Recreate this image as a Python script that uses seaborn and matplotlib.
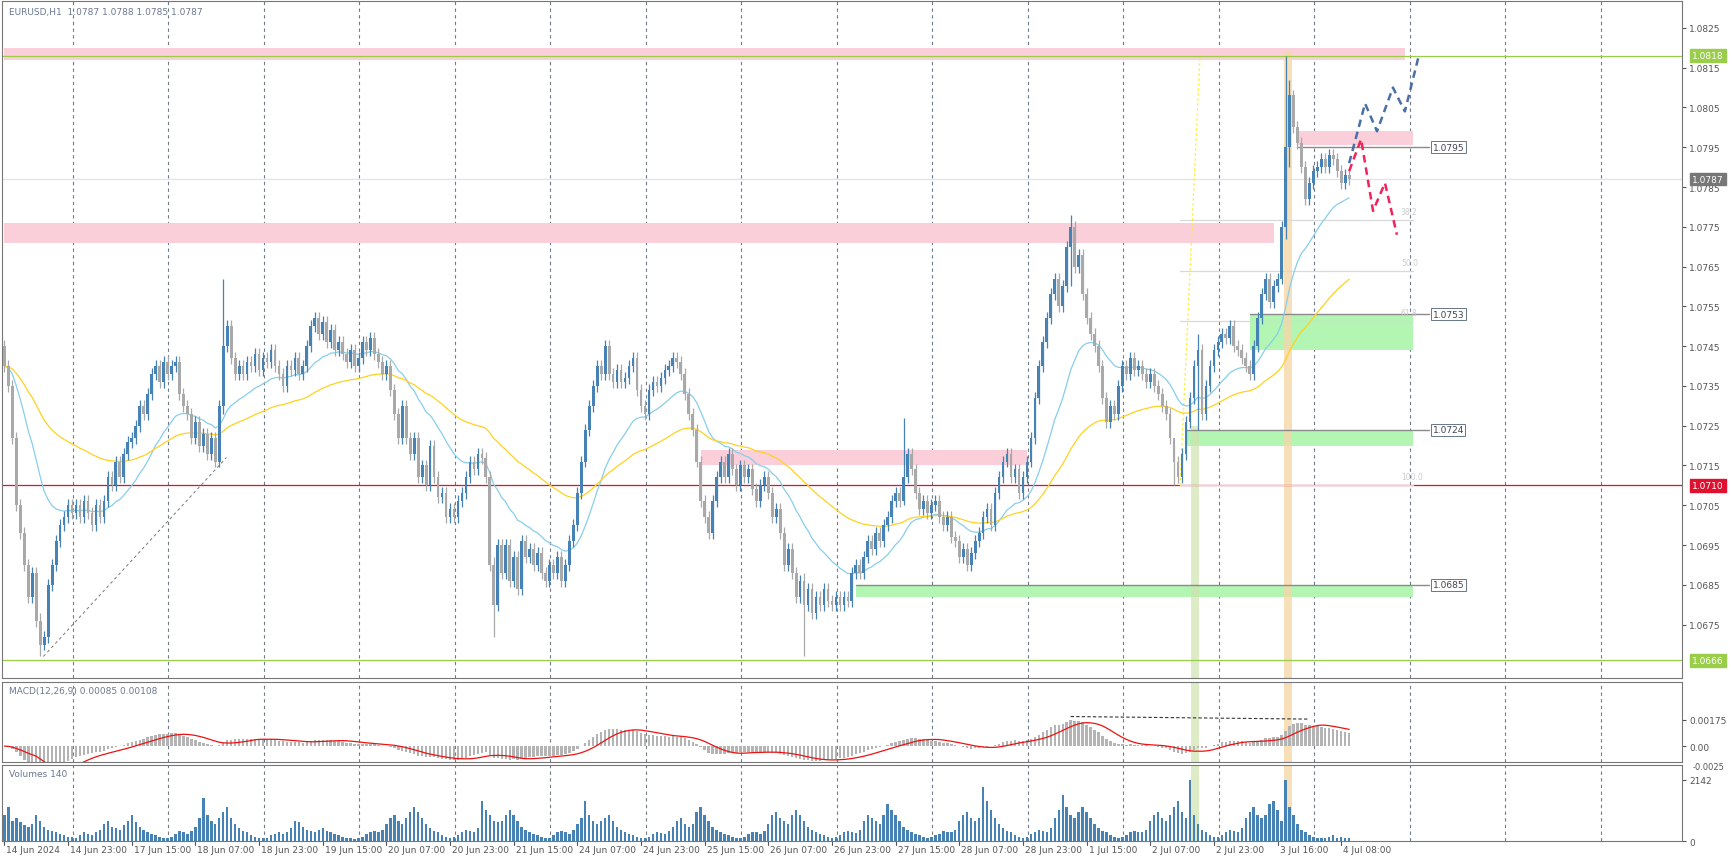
import numpy as np
import pandas as pd
import seaborn as sns
import matplotlib.pyplot as plt
from matplotlib.patches import Rectangle
import matplotlib.transforms as mtrans

# EURUSD H1 closes, 14 Jun 2024 07:00 -> 4 Jul 2024 09:00
closes = [
    1.0740, 1.0735, 1.0722, 1.0705, 1.0698, 1.0690, 1.0682, 1.0688, 1.0676, 1.0670, 1.0672, 1.0685,
    1.0690, 1.0696, 1.0700, 1.0702, 1.0705, 1.0703, 1.0705, 1.0702, 1.0706, 1.0703, 1.0700, 1.0705,
    1.0702, 1.0706, 1.0712, 1.0710, 1.0716, 1.0712, 1.0718, 1.0721, 1.0722, 1.0725, 1.0730, 1.0728,
    1.0733, 1.0738, 1.0740, 1.0736, 1.0741, 1.0738, 1.0740, 1.0741, 1.0733, 1.0730, 1.0728, 1.0722,
    1.0726, 1.0720, 1.0723, 1.0718, 1.0722, 1.0716, 1.0730, 1.0745, 1.0750, 1.0742, 1.0738, 1.0740,
    1.0738, 1.0741, 1.0740, 1.0743, 1.0739, 1.0742, 1.0741, 1.0744, 1.0740, 1.0738, 1.0735, 1.0740,
    1.0739, 1.0742, 1.0738, 1.0740, 1.0745, 1.0750, 1.0752, 1.0748, 1.0751, 1.0746, 1.0749, 1.0744,
    1.0746, 1.0743, 1.0741, 1.0744, 1.0740, 1.0742, 1.0746, 1.0744, 1.0747, 1.0743, 1.0741, 1.0738,
    1.0740, 1.0734, 1.0728, 1.0722, 1.0730, 1.0722, 1.0718, 1.0722, 1.0712, 1.0715, 1.0710, 1.0720,
    1.0712, 1.0707, 1.0708, 1.0702, 1.0704, 1.0702, 1.0706, 1.0708, 1.0712, 1.0716, 1.0714, 1.0718,
    1.0717, 1.0712, 1.0690, 1.0680, 1.0695, 1.0688, 1.0695, 1.0686, 1.0692, 1.0684, 1.0696, 1.0692,
    1.0694, 1.0690, 1.0693, 1.0688, 1.0686, 1.0690, 1.0688, 1.0692, 1.0686, 1.0690, 1.0696, 1.0700,
    1.0708, 1.0716, 1.0724, 1.0730, 1.0735, 1.0740, 1.0738, 1.0745, 1.0738, 1.0736, 1.0739, 1.0736,
    1.0737, 1.0740, 1.0742, 1.0734, 1.0730, 1.0728, 1.0734, 1.0736, 1.0735, 1.0737, 1.0739, 1.0740,
    1.0742, 1.0741, 1.0738, 1.0733, 1.0728, 1.0724, 1.0716, 1.0706, 1.0702, 1.0698, 1.0706, 1.0712,
    1.0716, 1.0712, 1.0718, 1.0714, 1.0710, 1.0715, 1.0712, 1.0714, 1.0709, 1.0706, 1.0710, 1.0712,
    1.0708, 1.0702, 1.0704, 1.0698, 1.0690, 1.0694, 1.0688, 1.0682, 1.0686, 1.0680, 1.0684, 1.0678,
    1.0682, 1.0680, 1.0684, 1.0681, 1.0680, 1.0682, 1.0680, 1.0682, 1.0681, 1.0688, 1.0690, 1.0688,
    1.0692, 1.0696, 1.0694, 1.0698, 1.0696, 1.0700, 1.0702, 1.0706, 1.0708, 1.0706, 1.0712, 1.0718,
    1.0714, 1.0708, 1.0704, 1.0706, 1.0703, 1.0705, 1.0706, 1.0702, 1.0700, 1.0702, 1.0697, 1.0696,
    1.0692, 1.0694, 1.0690, 1.0693, 1.0696, 1.0698, 1.0702, 1.0704, 1.0700, 1.0708, 1.0712, 1.0716,
    1.0718, 1.0712, 1.0714, 1.0708, 1.0712, 1.0716, 1.0722, 1.0732, 1.0740, 1.0746, 1.0752, 1.0758,
    1.0762, 1.0755, 1.0760, 1.0770, 1.0775, 1.0765, 1.0768, 1.0758, 1.0752, 1.0748, 1.0745, 1.0740,
    1.0732, 1.0726, 1.0730, 1.0728, 1.0735, 1.0740, 1.0738, 1.0742, 1.0739, 1.0740, 1.0738, 1.0736,
    1.0738, 1.0735, 1.0733, 1.0730, 1.0728, 1.0722, 1.0716, 1.0712, 1.0718, 1.0726, 1.0732, 1.0740,
    1.0744, 1.0728, 1.0735, 1.0740, 1.0744, 1.0746, 1.0748, 1.0747, 1.0750, 1.0745, 1.0744, 1.0742,
    1.0740, 1.0738, 1.0745, 1.0752, 1.0758, 1.0762, 1.0756, 1.0760, 1.0762, 1.0775, 1.0795, 1.0808,
    1.0800, 1.0796, 1.0790, 1.0782, 1.0786, 1.0789, 1.0790, 1.0792, 1.0790, 1.0793, 1.0792, 1.0789,
    1.0786, 1.0788, 1.0787,
]
first_open = 1.0745
# candles whose wick reaches well beyond the body (index: (high, low))
wick_extremes = {9: (1.0678, 1.0667), 55: (1.0762, 1.0728), 123: (1.0692, 1.0672), 201: (1.0688, 1.0667),
                 226: (1.0727, 1.0705), 268: (1.0778, 1.0760), 294: (1.0720, 1.0710), 300: (1.0748, 1.0724),
                 322: (1.0818, 1.0772), 323: (1.0812, 1.0790)}

volumes = (
    [900, 1200, 700, 800, 650, 550, 500, 600, 900, 700, 500, 400, 350, 300, 250, 200, 150]
    + [150, 100, 200, 300, 250, 220, 300, 400, 600, 700, 500, 450, 400, 550, 700, 900, 650, 500, 400, 300, 250, 200, 150, 100]
    + [120, 150, 250, 350, 300, 250, 350, 500, 800, 1500, 900, 700, 600, 800, 1000, 1200, 800, 600, 450, 350, 300, 200, 150, 120]
    + [100, 120, 200, 250, 300, 250, 300, 450, 700, 650, 500, 400, 350, 300, 400, 450, 350, 300, 250, 200, 150, 120, 100, 80]
    + [120, 150, 250, 300, 350, 300, 400, 600, 800, 900, 700, 600, 800, 1000, 1200, 1000, 800, 600, 450, 350, 300, 200, 150, 120]
    + [150, 200, 300, 400, 350, 300, 450, 1400, 1100, 900, 700, 650, 700, 900, 1100, 900, 700, 500, 400, 300, 250, 200, 150, 100]
    + [100, 200, 300, 350, 300, 250, 400, 600, 800, 1400, 900, 700, 600, 700, 800, 900, 700, 500, 400, 300, 250, 200, 150, 100]
    + [120, 150, 250, 300, 280, 250, 350, 500, 700, 800, 600, 500, 600, 1000, 1200, 900, 700, 500, 400, 300, 250, 200, 150, 120]
    + [120, 150, 250, 300, 300, 250, 350, 600, 900, 1000, 800, 700, 600, 900, 1100, 900, 700, 500, 400, 300, 250, 200, 150, 120]
    + [150, 200, 300, 350, 300, 280, 400, 700, 900, 800, 700, 600, 900, 1300, 1100, 900, 700, 500, 400, 300, 250, 200, 150, 120]
    + [150, 200, 250, 350, 300, 300, 400, 700, 900, 1000, 800, 700, 800, 1900, 1400, 1100, 800, 600, 450, 350, 300, 200, 150, 120]
    + [150, 250, 300, 400, 350, 300, 450, 800, 1100, 1600, 1200, 900, 800, 1000, 1200, 1000, 800, 600, 450, 350, 300, 200, 150, 120]
    + [150, 200, 300, 350, 300, 300, 400, 700, 900, 1000, 800, 700, 900, 1200, 1400, 1000, 800, 2142, 900, 600, 400, 300, 200, 150]
    + [150, 200, 300, 400, 350, 300, 450, 800, 1000, 1200, 900, 800, 900, 1300, 1400, 1100, 700, 2142, 1200, 900, 600, 400, 300, 200]
    + [150, 100, 120, 100, 150, 200, 100, 150, 100, 120]
)

tick_labels = ["14 Jun 2024", "14 Jun 23:00", "17 Jun 15:00", "18 Jun 07:00", "18 Jun 23:00", "19 Jun 15:00",
               "20 Jun 07:00", "20 Jun 23:00", "21 Jun 15:00", "24 Jun 07:00", "24 Jun 23:00", "25 Jun 15:00",
               "26 Jun 07:00", "26 Jun 23:00", "27 Jun 15:00", "28 Jun 07:00", "28 Jun 23:00", "1 Jul 15:00",
               "2 Jul 07:00", "2 Jul 23:00", "3 Jul 16:00", "4 Jul 08:00"]

# zones: (start idx, end idx, low, high, colour)
zones = [(0, 352, 1.0817, 1.0820, "#fbcfd9"), (0, 319, 1.0771, 1.0776, "#fbcfd9"),
         (325, 354, 1.07955, 1.0799, "#fbcfd9"), (175, 257, 1.0715, 1.0719, "#fbcfd9"),
         (313, 354, 1.0744, 1.0753, "#b3f5b3"), (297, 354, 1.0720, 1.0724, "#b3f5b3"),
         (214, 354, 1.0682, 1.0685, "#b3f5b3")]
levels = [(1.0795, 325), (1.0753, 313), (1.0724, 297), (1.0685, 214)]
fib_levels = [("38.2", 1.07767), ("50.0", 1.0764), ("61.8", 1.07513), ("100.0", 1.0710)]
blue_path = ([338, 342, 345, 349, 352, 355.5], [1.0791, 1.0806, 1.0799, 1.0810, 1.0804, 1.0818])
red_path = ([338, 341, 344, 347, 350], [1.0789, 1.0797, 1.0779, 1.0786, 1.0773])

df = pd.DataFrame({"close": closes, "volume": volumes})
df["idx"] = np.arange(len(df))
df["open"] = df["close"].shift(1).fillna(first_open)
df["high"] = df[["open", "close"]].max(axis=1) + 0.00015
df["low"] = df[["open", "close"]].min(axis=1) - 0.00015
for k, (h, l) in wick_extremes.items():
    df.loc[k, "high"] = h
    df.loc[k, "low"] = l
df["ma_fast"] = df["close"].ewm(span=21, adjust=False).mean()
df["ma_slow"] = df["close"].ewm(span=60, adjust=False).mean()
macd = df["close"].ewm(span=12, adjust=False).mean() - df["close"].ewm(span=26, adjust=False).mean()
df["macd"] = macd
df["signal"] = macd.rolling(9, min_periods=1).mean()

sns.set_style("white")
plt.rcParams["font.family"] = ["DejaVu Sans"]
fig = plt.figure(figsize=(17.33, 8.62), dpi=100)
W, H = 1568.0, 780.0
ax = fig.add_axes([2 / W, 1 - 614 / H, 1520 / W, 612 / H])
axm = fig.add_axes([2 / W, 1 - 690 / H, 1520 / W, 72 / H], sharex=ax)
axv = fig.add_axes([2 / W, 1 - 762 / H, 1520 / W, 69 / H], sharex=ax)
xmin, xmax = -0.56, 421.7
grid_x = np.arange(17.2, xmax, 24)

for a in (ax, axm, axv):
    for s in a.spines.values():
        s.set_color("#777777")
        s.set_linewidth(0.8)
    for g in grid_x:
        a.axvline(g, color="#6f7a8a", ls=(0, (3, 3)), lw=0.8, zorder=0)
    a.yaxis.tick_right()
    a.tick_params(axis="y", labelsize=6.5, colors="#555555", length=3, pad=2)
    a.tick_params(axis="x", bottom=False, labelbottom=False)

ylo, yhi = 1.06617, 1.08317
# main panel
for x0, x1, lo, hi, c in zones:
    ax.add_patch(Rectangle((x0, lo), x1 - x0, hi - lo, color=c, zorder=1, lw=0))
ax.axhline(1.0818, color="#9acd4a", lw=0.9, zorder=2)
ax.axhline(1.0666, color="#9acd4a", lw=0.9, zorder=2)
ax.axhline(1.0710, color="#e0102f", lw=0.9, zorder=2)
ax.axhline(1.0787, color="#e4e0f4", lw=0.9, zorder=1)
for lv, x0 in levels:
    ax.plot([x0, 358], [lv, lv], color="#8a8a8a", lw=1.0, zorder=3)
    ax.text(359, lv, f"{lv:.4f}", fontsize=6.5, va="center", ha="left", color="#445",
            bbox=dict(boxstyle="square,pad=0.15", fc="white", ec="#667788", lw=0.7), zorder=6)
for lab, lv in fib_levels:
    ax.plot([295.5, 354], [lv, lv], color="#d8d8d8", lw=0.9, zorder=2)
    ax.text(351, lv + 0.0001, lab, fontsize=5.5, color="#cccccc", ha="left", va="bottom")
ax.plot([295.5, 300.5], [1.0710, 1.0818], color="#ffee33", ls=(0, (2, 2)), lw=0.9, zorder=3)
ax.plot([9.8, 55.8], [1.0667, 1.0717], color="#777777", ls=(0, (3, 3)), lw=0.7, zorder=3)
ax.axvspan(298.3, 300.2, ymin=0, ymax=(1.0725 - ylo) / (yhi - ylo), color="#cfe3b0", alpha=0.7, zorder=1, lw=0)
ax.axvspan(321.5, 323.6, ymin=0, ymax=(1.0819 - ylo) / (yhi - ylo), color="#f5d7a8", alpha=0.8, zorder=1, lw=0)
for a in (axm, axv):
    a.axvspan(298.3, 300.2, color="#cfe3b0", alpha=0.7, zorder=1, lw=0)
    a.axvspan(321.5, 323.6, color="#f5d7a8", alpha=0.8, zorder=1, lw=0)

sns.lineplot(data=df, x="idx", y="ma_fast", ax=ax, color="#87ceeb", lw=0.9, zorder=4)
sns.lineplot(data=df, x="idx", y="ma_slow", ax=ax, color="#ffd21f", lw=0.9, zorder=4)

up = df["close"] >= df["open"]
doji = (df["close"] - df["open"]).abs() < 0.00004
cols = np.where(doji, "black", np.where(up, "#4682b4", "#a9a9a9"))
ax.vlines(df["idx"], df["low"], df["high"], colors=cols, lw=0.9, zorder=5)
body = (df["close"] - df["open"]).abs().clip(lower=0.000015)
ax.bar(df["idx"], body, bottom=df[["open", "close"]].min(axis=1), width=0.68, color=cols, zorder=5, lw=0)

ax.plot(blue_path[0], blue_path[1], color="#4a6fa5", ls=(0, (3, 2)), lw=1.8, zorder=6)
ax.plot(red_path[0], red_path[1], color="#f0245a", ls=(0, (3, 2)), lw=1.8, zorder=6)

ax.set_xlim(xmin, xmax)
ax.set_ylim(ylo, yhi)
ax.set_yticks(np.arange(1.0675, 1.0830, 0.001))
ax.yaxis.set_major_formatter(plt.FormatStrFormatter("%.4f"))
ax.set_xlabel("")
ax.set_ylabel("")
trans = mtrans.blended_transform_factory(ax.transAxes, ax.transData)
for lv, fc, tc in [(1.0818, "#9acd4a", "white"), (1.0787, "#777777", "white"),
                   (1.0710, "#e0102f", "white"), (1.0666, "#9acd4a", "white")]:
    ax.text(1.006, lv, f"{lv:.4f}", transform=trans, fontsize=6.5, color=tc, va="center", ha="left",
            bbox=dict(boxstyle="square,pad=0.2", fc=fc, ec=fc), zorder=10, clip_on=False)
ax.text(0.004, 0.992, "EURUSD,H1  1.0787 1.0788 1.0785 1.0787", transform=ax.transAxes,
        fontsize=6.5, color="#6c7890", va="top")

# MACD panel
axm.bar(df["idx"], df["macd"], width=0.6, color="#b4b4b4", zorder=2, lw=0)
sns.lineplot(data=df, x="idx", y="signal", ax=axm, color="#ee1111", lw=0.9, zorder=3)
axm.plot([268, 328], [0.00195, 0.00178], color="#333333", ls=(0, (3, 2)), lw=0.8)
axm.set_ylim(-0.00102, 0.00423)
axm.set_yticks([0.00175, 0.0])
axm.set_yticklabels(["0.00175", "0.00"])
axm.text(1.006, 0.0, "-0.0025", transform=axm.transAxes, fontsize=6, color="#555555", va="top")
axm.set_xlabel("")
axm.set_ylabel("")
axm.text(0.004, 0.95, "MACD(12,26,9) 0.00085 0.00108", transform=axm.transAxes, fontsize=6.5,
         color="#6c7890", va="top")

# volume panel
axv.bar(df["idx"], df["volume"], width=0.6, color="#4682b4", zorder=2, lw=0)
axv.set_ylim(0, 2142 * 1.24)
axv.set_yticks([0, 2142])
axv.set_yticklabels(["0", "2142"])
axv.text(0.004, 0.95, "Volumes 140", transform=axv.transAxes, fontsize=6.5, color="#6c7890", va="top")

for k, lab in enumerate(tick_labels):
    xpos = 16 * k
    axv.plot([xpos, xpos], [0, -2142 * 0.06], color="#555555", lw=0.8, clip_on=False)
    axv.text(xpos + 0.5, -2142 * 0.07, lab, fontsize=6.5, color="#555555", ha="left", va="top")
axv.set_xlim(xmin, xmax)

fig.savefig("out.png", dpi=100)
